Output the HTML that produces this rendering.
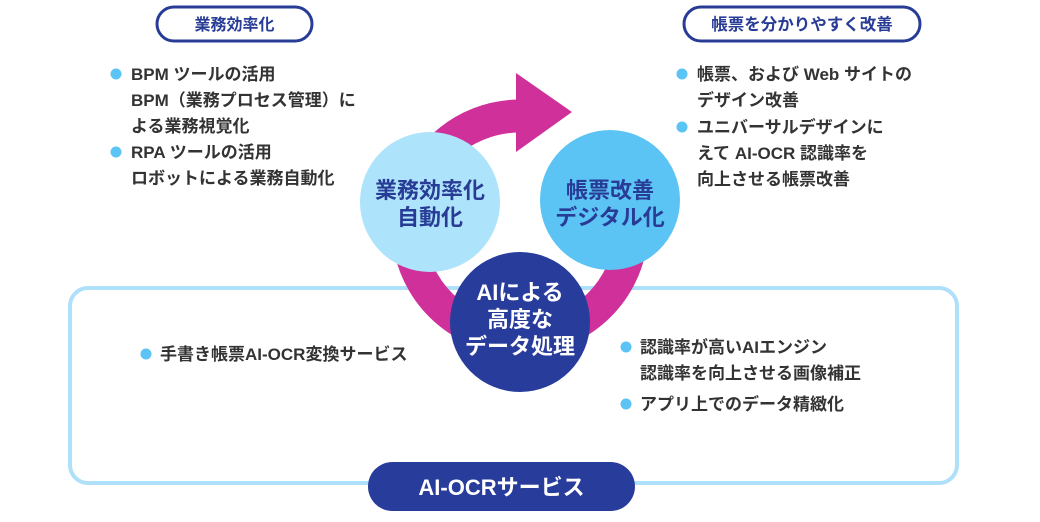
<!DOCTYPE html>
<html><head><meta charset="utf-8"><style>
html,body{margin:0;padding:0;background:#fff;}
svg text{font-family:"Liberation Sans","Noto Sans CJK JP",sans-serif;}
</style></head><body>
<svg width="1040" height="517" viewBox="0 0 1040 517" xmlns="http://www.w3.org/2000/svg">
<rect x="70" y="288" width="887" height="195" rx="18" fill="none" stroke="#aee0fa" stroke-width="4"/>
<rect x="157" y="7" width="155" height="34" rx="17" fill="#fff" stroke="#283c96" stroke-width="3"/>
<text x="234.5" y="30" font-size="16" font-weight="bold" fill="#283c96" text-anchor="middle">業務効率化</text>
<rect x="684" y="7" width="236" height="34" rx="17" fill="#fff" stroke="#283c96" stroke-width="3"/>
<text x="802" y="30" font-size="16.5" font-weight="bold" fill="#283c96" text-anchor="middle">帳票を分かりやすく改善</text>
<g font-size="17" font-weight="bold" fill="#333">
<circle cx="116" cy="74" r="5.5" fill="#5bc4f5"/>
<text x="131" y="80">BPM ツールの活用</text>
<text x="131" y="106">BPM（業務プロセス管理）に</text>
<text x="131" y="132">よる業務視覚化</text>
<circle cx="116" cy="152" r="5.5" fill="#5bc4f5"/>
<text x="131" y="158">RPA ツールの活用</text>
<text x="131" y="184">ロボットによる業務自動化</text>
<circle cx="682" cy="74" r="5.5" fill="#5bc4f5"/>
<text x="697" y="80">帳票、および Web サイトの</text>
<text x="697" y="106">デザイン改善</text>
<circle cx="682" cy="127" r="5.5" fill="#5bc4f5"/>
<text x="697" y="133">ユニバーサルデザインに</text>
<text x="697" y="159">えて AI-OCR 認識率を</text>
<text x="697" y="185">向上させる帳票改善</text>
<circle cx="146" cy="354" r="5.5" fill="#5bc4f5"/>
<text x="160" y="360">手書き帳票AI-OCR変換サービス</text>
<circle cx="626" cy="347" r="5.5" fill="#5bc4f5"/>
<text x="640" y="353">認識率が高いAIエンジン</text>
<text x="640" y="379">認識率を向上させる画像補正</text>
<circle cx="626" cy="404" r="5.5" fill="#5bc4f5"/>
<text x="640" y="410">アプリ上でのデータ精緻化</text>
</g>
<path d="M408 228 A112 112 0 0 1 520 116" fill="none" stroke="#d0309a" stroke-width="33"/>
<polygon points="516,73 572,112 516,152" fill="#d0309a"/>
<path d="M630 247 A112 112 0 0 1 410 247" fill="none" stroke="#d0309a" stroke-width="33"/>
<circle cx="430" cy="202" r="70" fill="#aee3fc"/>
<text x="430" y="198" font-size="22" font-weight="bold" fill="#283c96" text-anchor="middle">業務効率化</text>
<text x="430" y="225" font-size="22" font-weight="bold" fill="#283c96" text-anchor="middle">自動化</text>
<circle cx="610" cy="200" r="70" fill="#5bc4f5"/>
<text x="610" y="198" font-size="22" font-weight="bold" fill="#283c96" text-anchor="middle">帳票改善</text>
<text x="610" y="225" font-size="22" font-weight="bold" fill="#283c96" text-anchor="middle">デジタル化</text>
<circle cx="520" cy="322" r="70" fill="#283c9c"/>
<g font-size="22" font-weight="bold" fill="#fff" text-anchor="middle">
<text x="520" y="300">AIによる</text>
<text x="520" y="327">高度な</text>
<text x="520" y="354">データ処理</text>
</g>
<rect x="368" y="462" width="267" height="49" rx="24.5" fill="#283c9c"/>
<text x="501.5" y="495" font-size="22" font-weight="bold" fill="#fff" text-anchor="middle">AI-OCRサービス</text>
</svg>
</body></html>
